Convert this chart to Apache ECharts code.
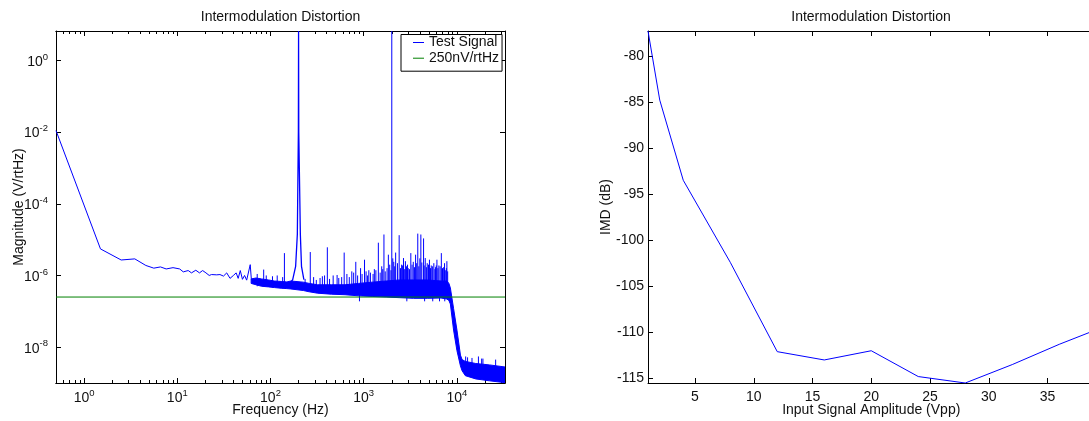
<!DOCTYPE html>
<html><head><meta charset="utf-8">
<script src="https://cdn.jsdelivr.net/npm/echarts@6/dist/echarts.min.js"></script>
<style>html,body{margin:0;padding:0;background:#fff}#c{width:1089px;height:421px}</style>
</head><body><div id="c"></div>
<script>
// ---------- Left chart: spectrum ----------
const titleText = 'Intermodulation Distortion';
const xMin = 0.5, xMax = 32768;
const yMin = 1.0e-9, yMax = 6.6;
const xMajorTicks = [1, 10, 100, 1000, 10000];
const xMinorTicks = [0.6,0.7,0.8,0.9,2,3,4,5,6,7,8,9,20,30,40,50,60,70,80,90,200,300,400,500,600,700,800,900,2000,3000,4000,5000,6000,7000,8000,9000,20000,30000];
const yMajorTicks = [1e-8, 1e-6, 1e-4, 1e-2, 1];
const refLevel = 2.5e-7;   // 250nV/rtHz

// low-frequency part of the test signal (single trace)
const lfFreq = [0.5,1.5,2.5,3.5,4.6,5.6,6.6,7.6,9.0,10.6,11.6,13.1,14.2,15.8,17.3,18.7,20.3,22.0,23.3,26.5,28.7,31.3,33.9,36.8,40,42.8,45,47.4,50,52.7,55.5,60.6,62.3];
const lfVal  = [1.1e-2,5.5e-6,2.7e-6,2.9e-6,1.9e-6,1.6e-6,1.73e-6,1.52e-6,1.65e-6,1.52e-6,1.26e-6,1.37e-6,1.18e-6,1.4e-6,1.18e-6,1.37e-6,1.18e-6,1.0e-6,1.06e-6,1.04e-6,1.06e-6,0.96e-6,1.18e-6,0.83e-6,1.0e-6,1.18e-6,0.83e-6,1.37e-6,0.78e-6,1.0e-6,0.74e-6,2.0e-6,0.78e-6];

// dense noise band (upper / lower envelope of the solid core)
const bandFreq = [62,70,80,95,110,130,150,165,225,260,320,450,630,880,1230,1740,2440,3430,4800,6750,7800,8200,8500,9200,10000,10900,11350,12300,15900,22300,32768];
const bandHigh = [8e-7,8.5e-7,8e-7,7.5e-7,7e-7,6.8e-7,6.6e-7,7e-7,6.5e-7,6e-7,5.5e-7,5.5e-7,5.5e-7,6e-7,6.5e-7,7e-7,7.5e-7,7.5e-7,7.5e-7,7e-7,7e-7,6e-7,4.5e-7,1.2e-7,3e-8,6e-9,4.5e-9,4e-9,3.5e-9,3.2e-9,2.8e-9];
const bandLow  = [6e-7,5.5e-7,5e-7,4.8e-7,4.6e-7,4.4e-7,4.3e-7,4.2e-7,3.8e-7,3.5e-7,3.2e-7,3.0e-7,2.9e-7,2.7e-7,2.6e-7,2.5e-7,2.4e-7,2.3e-7,2.3e-7,2.35e-7,2.2e-7,2.0e-7,1.6e-7,3e-8,8e-9,3.0e-9,2.2e-9,1.6e-9,1.3e-9,1.15e-9,1.02e-9];

// 200 Hz tone
const pkFreq = [165,173,186,194,199,200,201,209,215,228];
const pkVal  = [6.5e-7,7.6e-7,1.8e-6,1.4e-5,1e-2,6.6,1e-2,1.4e-5,1.8e-6,7.6e-7];

// discrete spectral lines (frequency, top, foot)
const spikeFreq = [84.5,141,267,380,407,518,617,745,822,925,1020,1134,1300,1435,1560,1648,1838,2000,2100,2200,2400,2550,2670,2800,2945,3000,3200,3400,3600,3800,4000,4100,4385,4570,4800,5070,5300,5650,5900,6100,6400,6800,7000,7360,7800,12400,13000,14500,17000,18400,19000,26000];
const spikeTop  = [1.46e-6,4.2e-6,4.5e-6,1.0e-6,6.1e-6,1.03e-6,4.35e-6,1.3e-6,2.4e-6,1.6e-6,2.75e-6,1.4e-6,1.5e-6,8.2e-6,1.8e-6,1.39e-5,3.8e-6,6.6,2.4e-6,4.35e-6,1.33e-5,2.0e-6,3.06e-6,2.5e-6,2.0e-6,1.6e-6,4.2e-6,2.4e-6,3.8e-6,1.47e-5,3.0e-6,1.39e-5,1.08e-5,3.06e-6,2.2e-6,2.75e-6,1.9e-6,2.2e-6,1.7e-6,2.75e-6,1.9e-6,4.2e-6,1.6e-6,2.2e-6,2.5e-6,5.5e-9,5.2e-9,5e-9,5.5e-9,4.8e-9,4.8e-9,4.5e-9];
const spikeFoot = [6e-7,5e-7,4e-7,4e-7,4e-7,4e-7,4e-7,4e-7,4e-7,4e-7,4e-7,4e-7,4e-7,4e-7,4e-7,4e-7,4e-7,4e-7,4e-7,4e-7,4e-7,4e-7,4e-7,4e-7,4e-7,4e-7,4e-7,4e-7,4e-7,4e-7,4e-7,4e-7,4e-7,4e-7,4e-7,4e-7,4e-7,4e-7,4e-7,4e-7,4e-7,4e-7,4e-7,4e-7,4e-7,2.5e-9,2.2e-9,2e-9,2e-9,2e-9,2e-9,2e-9];

// smaller noise excursions above and below the core (frequency, top, foot)
const hairFreq = [72,90,105,118,135,235,290,310,340,360,430,470,540,580,660,700,780,860,900,960,1060,1100,1180,1260,1350,1500,1600,1700,1780,1900,1960,2050,2150,2300,2480,2600,2750,2880,2900,3100,3300,3500,3700,3900,4200,4450,4500,4700,4950,5200,5450,5500,5800,6000,6250,6500,6600,6950,7200,7400,7500,7700,7950];
const hairTop  = [1.1e-6,1.0e-6,9.5e-7,1.0e-6,9e-7,8e-7,9e-7,7.5e-7,8.5e-7,9.5e-7,8e-7,1.0e-6,8.5e-7,9e-7,1.1e-6,9e-7,1.2e-6,1.0e-6,4e-7,1.1e-6,1.3e-6,1.0e-6,1.2e-6,1.1e-6,1.4e-6,1.2e-6,1.5e-6,1.3e-6,1.6e-6,2.0e-6,1.4e-6,3.0e-6,1.8e-6,2.2e-6,1.6e-6,1.9e-6,1.5e-6,1.8e-6,4e-7,1.5e-6,2.0e-6,1.7e-6,2.2e-6,1.8e-6,2.3e-6,1.9e-6,4e-7,1.7e-6,2.0e-6,1.6e-6,1.8e-6,4e-7,1.5e-6,1.9e-6,1.6e-6,4e-7,1.8e-6,1.5e-6,1.7e-6,4e-7,1.4e-6,1.6e-6,1.3e-6];
const hairFoot = [5e-7,5e-7,4.6e-7,4.6e-7,4.4e-7,4e-7,4e-7,4e-7,4e-7,4e-7,4e-7,4e-7,4e-7,4e-7,4e-7,4e-7,4e-7,4e-7,1.9e-7,4e-7,4e-7,4e-7,4e-7,4e-7,4e-7,4e-7,4e-7,4e-7,4e-7,4e-7,4e-7,4e-7,4e-7,4e-7,4e-7,4e-7,4e-7,4e-7,1.9e-7,4e-7,4e-7,4e-7,4e-7,4e-7,4e-7,4e-7,1.9e-7,4e-7,4e-7,4e-7,4e-7,1.9e-7,4e-7,4e-7,4e-7,1.9e-7,4e-7,4e-7,4e-7,1.9e-7,4e-7,4e-7,4e-7];

// ---------- Right chart: IMD vs amplitude ----------
const ampVpp = [1,2,4,8,12,16,20,24,28,32,36,39];
const imdDb  = [-77.3,-84.8,-93.5,-102.4,-112.1,-113.0,-112.0,-114.8,-115.5,-113.5,-111.3,-109.8];
const ampMin = 1, ampMax = 39;
const dbMin = -115.5, dbMax = -77.3;
const ampTicks = [5,10,15,20,25,30,35];
const dbTicks = [-115,-110,-105,-100,-95,-90,-85,-80];

// ---------- styling ----------
const FONT = 'Liberation Sans, Arial, Helvetica, sans-serif';
const TXT = '#111';
const BLUE = '#0000ff', GREEN = '#008000';
const FS = 14;

const supRich = {
  b: {fontSize: FS, fontFamily: FONT, color: TXT, verticalAlign: 'bottom'},
  s: {fontSize: 9.5, fontFamily: FONT, color: TXT, verticalAlign: 'bottom', padding: [0, 0, 7, 0]}
};
const pow10 = v => '{b|10}{s|' + Math.round(Math.log10(v)) + '}';

function boxAxis(base, extra) { return Object.assign({}, base, extra); }
const line = {show: true, onZero: false, lineStyle: {color: '#000', width: 1}};

const xLogBase = {gridIndex: 0, type: 'log', logBase: 10, min: xMin, max: xMax, splitLine: {show: false}, axisLine: line};
const yLogBase = {gridIndex: 0, type: 'log', logBase: 10, min: yMin, max: yMax, splitLine: {show: false}, axisLine: line};
const xLinBase = {gridIndex: 1, type: 'value', min: ampMin, max: ampMax, splitLine: {show: false}, axisLine: line};
const yLinBase = {gridIndex: 1, type: 'value', min: dbMin, max: dbMax, splitLine: {show: false}, axisLine: line};

const tk = (vals, len) => ({show: true, inside: true, length: len, customValues: vals, lineStyle: {color: '#000', width: 1}});
const noLab = {show: false};
const nameStyle = {fontSize: FS, fontFamily: FONT, color: TXT};

const segRender = (params, api) => {
  const f = api.value(0);
  const a = api.coord([f, api.value(1)]);
  const b = api.coord([f, api.value(2)]);
  return {type: 'line', shape: {x1: a[0], y1: a[1], x2: b[0], y2: b[1]}, style: {stroke: BLUE, lineWidth: 1}};
};

const chart = echarts.init(document.getElementById('c'), null, {renderer: 'canvas'});
chart.setOption({
  animation: false,
  backgroundColor: '#fff',
  title: [
    {text: titleText, left: 280.5, top: 10, padding: 0, textAlign: 'center', textStyle: {fontSize: FS, fontWeight: 'normal', fontFamily: FONT, color: TXT}},
    {text: titleText, left: 871, top: 10, padding: 0, textAlign: 'center', textStyle: {fontSize: FS, fontWeight: 'normal', fontFamily: FONT, color: TXT}}
  ],
  grid: [
    {left: 56, top: 31, width: 449, height: 352, containLabel: false, outerBoundsMode: 'none'},
    {left: 648, top: 31, width: 446.5, height: 352, containLabel: false, outerBoundsMode: 'none'}
  ],
  legend: {
    data: [{name: 'Test Signal', icon: 'rect'}, {name: '250nV/rtHz', icon: 'rect'}],
    orient: 'vertical', left: 401, top: 34.5,
    itemWidth: 11, itemHeight: 1, itemGap: 1.7,
    padding: [1, 3, 6, 12],
    borderColor: '#000', borderWidth: 1, backgroundColor: '#fff',
    textStyle: {fontSize: FS, fontFamily: FONT, color: TXT},
    z: 20
  },
  xAxis: [
    boxAxis(xLogBase, {position: 'bottom', axisTick: tk(xMajorTicks, 5),
      axisLabel: {customValues: xMajorTicks, formatter: pow10, rich: supRich, margin: 5},
      name: 'Frequency (Hz)', nameLocation: 'middle', nameGap: 20, nameMoveOverlap: false,
      nameTextStyle: nameStyle}),
    boxAxis(xLogBase, {position: 'bottom', axisTick: tk(xMinorTicks, 3), axisLabel: noLab}),
    boxAxis(xLogBase, {position: 'top', axisTick: tk(xMajorTicks, 5), axisLabel: noLab}),
    boxAxis(xLogBase, {position: 'top', axisTick: tk(xMinorTicks, 3), axisLabel: noLab}),
    boxAxis(xLinBase, {position: 'bottom', axisTick: tk(ampTicks, 5),
      axisLabel: {customValues: ampTicks, fontSize: FS, fontFamily: FONT, color: TXT, margin: 7},
      name: 'Input Signal Amplitude (Vpp)', nameLocation: 'middle', nameGap: 20, nameMoveOverlap: false,
      nameTextStyle: nameStyle}),
    boxAxis(xLinBase, {position: 'top', axisTick: tk(ampTicks, 5), axisLabel: noLab})
  ],
  yAxis: [
    boxAxis(yLogBase, {position: 'left', axisTick: tk(yMajorTicks, 5),
      axisLabel: {customValues: yMajorTicks, formatter: pow10, rich: supRich, margin: 8},
      name: 'Magnitude (V/rtHz)', nameLocation: 'middle', nameGap: 30, nameRotate: 90, nameMoveOverlap: false,
      nameTextStyle: nameStyle}),
    boxAxis(yLogBase, {position: 'right', axisTick: tk(yMajorTicks, 5), axisLabel: noLab}),
    boxAxis(yLinBase, {position: 'left', axisTick: tk(dbTicks, 5),
      axisLabel: {customValues: dbTicks, fontSize: FS, fontFamily: FONT, color: TXT, margin: 4},
      name: 'IMD (dB)', nameLocation: 'middle', nameGap: 35, nameRotate: 90, nameMoveOverlap: false,
      nameTextStyle: nameStyle}),
    boxAxis(yLinBase, {position: 'right', axisTick: tk(dbTicks, 5), axisLabel: noLab})
  ],
  series: [
    {name: 'Test Signal', type: 'line', xAxisIndex: 0, yAxisIndex: 0, symbol: 'none', showSymbol: false,
      lineStyle: {color: BLUE, width: 1}, itemStyle: {color: BLUE},
      data: lfFreq.map((f, i) => [f, lfVal[i]])},
    {name: 'band', type: 'custom', xAxisIndex: 0, yAxisIndex: 0, clip: true, silent: true,
      data: [[bandFreq[0], bandHigh[0]]],
      renderItem: (params, api) => {
        const pts = [];
        for (let i = 0; i < bandFreq.length; i++) pts.push(api.coord([bandFreq[i], bandHigh[i]]));
        for (let i = bandFreq.length - 1; i >= 0; i--) pts.push(api.coord([bandFreq[i], bandLow[i]]));
        return {type: 'polygon', shape: {points: pts}, style: {fill: BLUE, stroke: BLUE, lineWidth: 1}};
      }},
    {name: 'tone200', type: 'line', xAxisIndex: 0, yAxisIndex: 0, symbol: 'none', showSymbol: false,
      lineStyle: {color: BLUE, width: 1.3}, data: pkFreq.map((f, i) => [f, pkVal[i]])},
    {name: 'lines', type: 'custom', xAxisIndex: 0, yAxisIndex: 0, clip: true, silent: true,
      data: spikeFreq.map((f, i) => [f, spikeTop[i], spikeFoot[i]]), renderItem: segRender},
    {name: 'hair', type: 'custom', xAxisIndex: 0, yAxisIndex: 0, clip: true, silent: true,
      data: hairFreq.map((f, i) => [f, hairTop[i], hairFoot[i]]), renderItem: segRender},
    {name: '250nV/rtHz', type: 'line', xAxisIndex: 0, yAxisIndex: 0, symbol: 'none', showSymbol: false,
      lineStyle: {color: GREEN, width: 1}, itemStyle: {color: GREEN},
      data: [[xMin, refLevel], [xMax, refLevel]]},
    {name: 'IMD', type: 'line', xAxisIndex: 4, yAxisIndex: 2, symbol: 'none', showSymbol: false,
      lineStyle: {color: BLUE, width: 1}, data: ampVpp.map((a, i) => [a, imdDb[i]])}
  ]
});
</script></body></html>
